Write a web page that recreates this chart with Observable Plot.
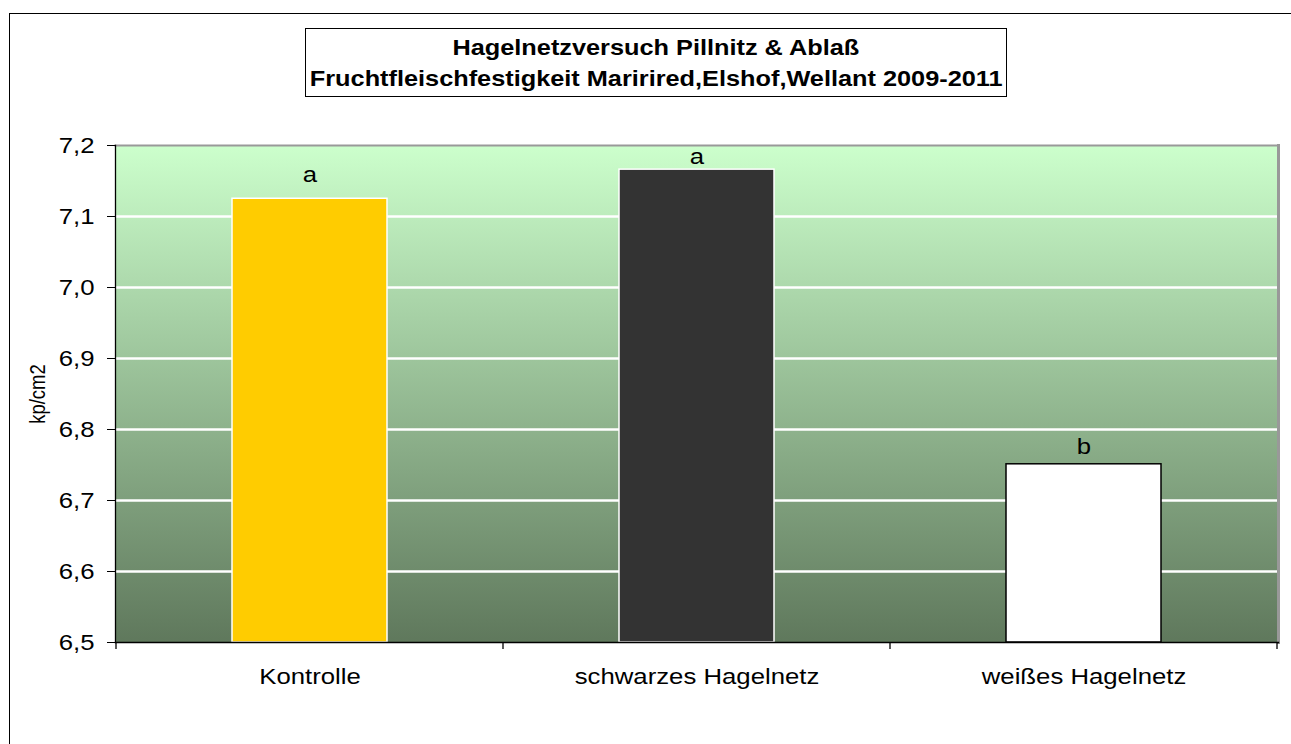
<!DOCTYPE html>
<html>
<head>
<meta charset="utf-8">
<script src="https://cdn.jsdelivr.net/npm/d3@7"></script>
<script src="https://cdn.jsdelivr.net/npm/@observablehq/plot@0.6"></script>
<style>
  body { margin: 0; background: #fff; font-family: "Liberation Sans", Arial, sans-serif; }
  #wrap { position: relative; width: 1291px; height: 744px; overflow: hidden; }
  #wrap svg { position: absolute; left: 0; top: 0; }
  #outer { position: absolute; left: 9px; top: 13px; width: 1400px; height: 900px; border: 1.5px solid #000; pointer-events: none; }
  #title { position: absolute; left: 305px; top: 28px; width: 702px; height: 69px; border: 1px solid #000; background: #fff;
           text-align: center; font-weight: bold; font-size: 22px; line-height: 31px; padding-top: 3px; box-sizing: border-box; }
  #title span { display: inline-block; transform: scaleX(1.15); transform-origin: center; }
</style>
</head>
<body>
<div id="wrap">
  <div id="outer"></div>
</div>
<script>
// ---- data ----
const titleLines = ["Hagelnetzversuch Pillnitz & Ablaß", "Fruchtfleischfestigkeit Maririred,Elshof,Wellant 2009-2011"];
const categories = ["Kontrolle", "schwarzes Hagelnetz", "weißes Hagelnetz"];
const values = [7.125, 7.166, 6.751];
const letters = ["a", "a", "b"];
const letterY = [7.148, 7.174, 6.765];
const barFills = ["#ffcc00", "#333333", "#ffffff"];
const barStrokes = ["#ffffff", "#ffffff", "#000000"];
const yTicks = [6.5, 6.6, 6.7, 6.8, 6.9, 7.0, 7.1, 7.2];
const yLabel = "kp/cm2";
const yMin = 6.5, yMax = 7.2;

const data = categories.map((c, i) => ({cat: c, value: values[i], letter: letters[i], ly: letterY[i], fill: barFills[i], stroke: barStrokes[i]}));

const fmt = d => d.toFixed(1).replace(".", ",");

const plot = Plot.plot({
  width: 1291,
  height: 744,
  marginLeft: 115,
  marginRight: 13,
  marginTop: 145,
  marginBottom: 102,
  style: {fontFamily: "Liberation Sans, Arial, sans-serif", background: "transparent", color: "#000"},
  x: {domain: categories, paddingInner: 0.6, paddingOuter: 0.3, label: null},
  y: {domain: [yMin, yMax], label: null},
  marks: [
    Plot.frame({fill: "url(#bgGrad)", stroke: "none"}),
    Plot.ruleY(yTicks.slice(1, -1), {stroke: "#ffffff", strokeWidth: 2.4}),
    Plot.frame({anchor: "top", stroke: "#999999", strokeWidth: 2}),
    Plot.frame({anchor: "right", stroke: "#999999", strokeWidth: 3}),
    Plot.barY(data, {x: "cat", y1: () => yMin, y2: "value", fill: "fill", stroke: "stroke", strokeWidth: 1.5}),
    Plot.text(data, {x: "cat", y: "ly", text: "letter", lineAnchor: "bottom", fontSize: 22, fill: "#000"}),
    Plot.axisY(yTicks, {tickFormat: fmt, tickSize: 8, tickPadding: 13, fontSize: 22, stroke: "#000", label: null}),
    Plot.axisX({tickSize: 0, tickPadding: 26, fontSize: 22, label: null}),
    Plot.frame({anchor: "left", stroke: "#000", strokeWidth: 1.3}),
    Plot.frame({anchor: "bottom", stroke: "#000", strokeWidth: 1.3}),
    Plot.text([yLabel], {frameAnchor: "left", textAnchor: "middle", dx: -77, rotate: -90, text: d => d, fontSize: 18.5, fill: "#000"})
  ]
});

const svg = d3.select(plot);
// gradient definition for plot-area background
const grad = svg.insert("defs", ":first-child").append("linearGradient")
  .attr("id", "bgGrad").attr("x1", 0).attr("y1", 0).attr("x2", 0).attr("y2", 1);
grad.append("stop").attr("offset", "0%").attr("stop-color", "#ccffcc");
grad.append("stop").attr("offset", "100%").attr("stop-color", "#5f785c");

// stretch text horizontally like the original rendering
svg.selectAll('g[aria-label="y-axis tick label"] text, g[aria-label="x-axis tick label"] text').each(function() {
  const t = this.getAttribute("transform") || "";
  this.setAttribute("transform", t + " scale(1.17,1)");
});
svg.selectAll('g[aria-label="text"] text').each(function() {
  const t = this.getAttribute("transform") || "";
  this.setAttribute("transform", t + (/rotate/.test(t) ? " scale(1,1.15)" : " scale(1.17,1)"));
});

// category boundary ticks on x axis, derived from the band scale
const xs = plot.scale("x");
const ys = plot.scale("y");
const gap = (xs.step - xs.bandwidth) / 2;
const bounds = categories.map(c => xs.apply(c) - gap);
bounds.push(xs.apply(categories[categories.length - 1]) + xs.bandwidth + gap);
const y0 = ys.apply(yMin);
svg.append("g").selectAll("line").data(bounds).join("line")
  .attr("x1", d => d).attr("x2", d => d).attr("y1", y0).attr("y2", y0 + 7)
  .attr("stroke", "#000").attr("stroke-width", 1.3);

document.getElementById("wrap").appendChild(plot);

const title = document.createElement("div");
title.id = "title";
title.innerHTML = titleLines.map(l => `<span>${l.replace(/&/g, "&amp;")}</span>`).join("<br>");
document.getElementById("wrap").appendChild(title);
</script>
</body>
</html>
